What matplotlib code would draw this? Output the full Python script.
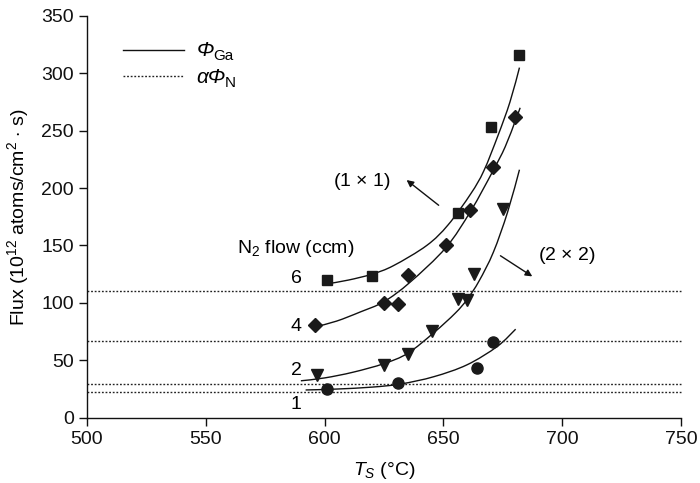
import matplotlib
matplotlib.use("Agg")
import matplotlib.pyplot as plt
from matplotlib.path import Path
from matplotlib.patches import PathPatch

plt.rcParams['font.family'] = ['Liberation Sans', 'DejaVu Sans']
plt.rcParams['mathtext.fontset'] = 'custom'
plt.rcParams['mathtext.rm'] = 'Liberation Sans'
plt.rcParams['mathtext.it'] = 'Liberation Sans:italic'

# measured data (T_S in °C, flux in 1e12 atoms/cm^2 s)
sq_x = [601, 620, 656, 670, 682]
sq_y = [120, 123, 178, 253, 316]
di_x = [596, 625, 631, 635, 651, 661, 671, 680]
di_y = [81, 100, 99, 124, 150, 181, 218, 262]
tr_x = [597, 625, 635, 645, 656, 660, 663, 675]
tr_y = [37, 46, 55, 75, 103, 102, 125, 182]
ci_x = [601, 631, 664, 671]
ci_y = [25, 30, 43, 66]

# fitted Ga flux curves
c6_x = [601, 610, 620, 629, 643, 652, 661.5, 667, 673, 678, 682]
c6_y = [116.5, 119.8, 125, 132.4, 150, 168, 195, 215, 246, 275, 305]
c4_x = [596, 605, 615, 625, 636, 651, 661.5, 670.6, 676, 680.5, 682.3]
c4_y = [79, 84, 92, 101, 118, 148, 180, 214, 236, 260, 270]
c2_x = [590, 600, 612, 625, 635, 646, 655, 660, 665, 671, 677, 682]
c2_y = [32, 34.5, 39.5, 47, 56, 74, 91, 103, 119, 144, 179, 216]
c1_x = [592, 605, 620, 632, 646, 660, 672.7, 680.4]
c1_y = [24, 24.8, 26.5, 29.2, 35.6, 46, 62, 77]

# alpha * Phi_N levels
n_levels = [110, 67, 29, 22.5]
flow_labels = ['6', '4', '2', '1']
flow_label_y = [121, 79, 41, 11]

x_ticks = [500, 550, 600, 650, 700, 750]
y_ticks = [0, 50, 100, 150, 200, 250, 300, 350]


def smooth_path(xs, ys):
    """Catmull-Rom through the read points, drawn as cubic Bezier segments."""
    pts = list(zip(xs, ys))
    verts = [pts[0]]
    codes = [Path.MOVETO]
    n = len(pts)
    for i in range(n - 1):
        p0 = pts[i - 1] if i > 0 else pts[i]
        p1 = pts[i]
        p2 = pts[i + 1]
        p3 = pts[i + 2] if i + 2 < n else pts[i + 1]
        c1 = (p1[0] + (p2[0] - p0[0]) / 6.0, p1[1] + (p2[1] - p0[1]) / 6.0)
        c2 = (p2[0] - (p3[0] - p1[0]) / 6.0, p2[1] - (p3[1] - p1[1]) / 6.0)
        verts += [c1, c2, p2]
        codes += [Path.CURVE4] * 3
    return Path(verts, codes)


fig = plt.figure(figsize=(7.0, 4.83), dpi=100)
ax = fig.add_axes([0.1243, 0.1356, 0.8486, 0.8313])
ax.set_xlim(500, 750)
ax.set_ylim(0, 350)

mc = '#1a1a1a'
for lvl in n_levels:
    ax.plot([500, 750], [lvl, lvl], color='#222222', lw=1.0,
            linestyle=(0, (1.3, 1.3)), clip_on=False)

for cx, cy in [(c6_x, c6_y), (c4_x, c4_y), (c2_x, c2_y), (c1_x, c1_y)]:
    ax.add_patch(PathPatch(smooth_path(cx, cy), facecolor='none',
                           edgecolor='#111111', lw=1.0))

ax.plot(sq_x, sq_y, 's', color=mc, ms=7.5, mec=mc)
ax.plot(di_x, di_y, 'D', color=mc, ms=7, mec=mc)
ax.plot(tr_x, tr_y, 'v', color=mc, ms=8.5, mec=mc)
ax.plot(ci_x, ci_y, 'o', color=mc, ms=8, mec=mc)

for lab, ly in zip(flow_labels, flow_label_y):
    ax.text(588, ly, lab, fontsize=14, ha='center', va='center')
ax.text(588, 147.5, r'N$_2$ flow (ccm)', fontsize=14, ha='center', va='center')

ax.text(615.8, 206, r'(1 $\times$ 1)', fontsize=14, ha='center', va='center')
ax.annotate('', xy=(634.5, 207), xytext=(648, 185),
            arrowprops=dict(arrowstyle='-|>', color='#111111', lw=1.0,
                            mutation_scale=10, shrinkA=0, shrinkB=0))
ax.text(701.8, 141, r'(2 $\times$ 2)', fontsize=14, ha='center', va='center')
ax.annotate('', xy=(687.4, 123), xytext=(674, 141),
            arrowprops=dict(arrowstyle='-|>', color='#111111', lw=1.0,
                            mutation_scale=10, shrinkA=0, shrinkB=0))

# legend
ax.plot([515, 541], [320, 320], color='#111111', lw=1.0)
ax.plot([515, 541], [297.5, 297.5], color='#222222', lw=1.0, linestyle=(0, (1.3, 1.3)))
ax.text(546, 320, 'Φ', fontsize=15, style='italic', va='center')
ax.annotate('Ga', xy=(546, 320), xytext=(12.5, -9), textcoords='offset points',
            fontsize=11, va='bottom')
ax.text(546, 296, 'αΦ', fontsize=15, style='italic', va='center')
ax.annotate('N', xy=(546, 296), xytext=(20.5, -9), textcoords='offset points',
            fontsize=11, va='bottom')

ax.set_xticks(x_ticks)
ax.set_yticks(y_ticks)
ax.tick_params(direction='out', length=6, width=1, labelsize=14, colors='#111111')
for s in ['top', 'right']:
    ax.spines[s].set_visible(False)
for s in ['left', 'bottom']:
    ax.spines[s].set_linewidth(1.0)
    ax.spines[s].set_color('#111111')

ax.set_xlabel(r'$T_S$ (°C)', fontsize=14)
ax.set_ylabel(r'Flux (10$^{12}$ atoms/cm$^2$ $\cdot$ s)', fontsize=14)
ax.xaxis.set_label_coords(0.5, -0.105)
ax.yaxis.set_label_coords(-0.095, 0.5)

fig.savefig('out.png', dpi=100)
